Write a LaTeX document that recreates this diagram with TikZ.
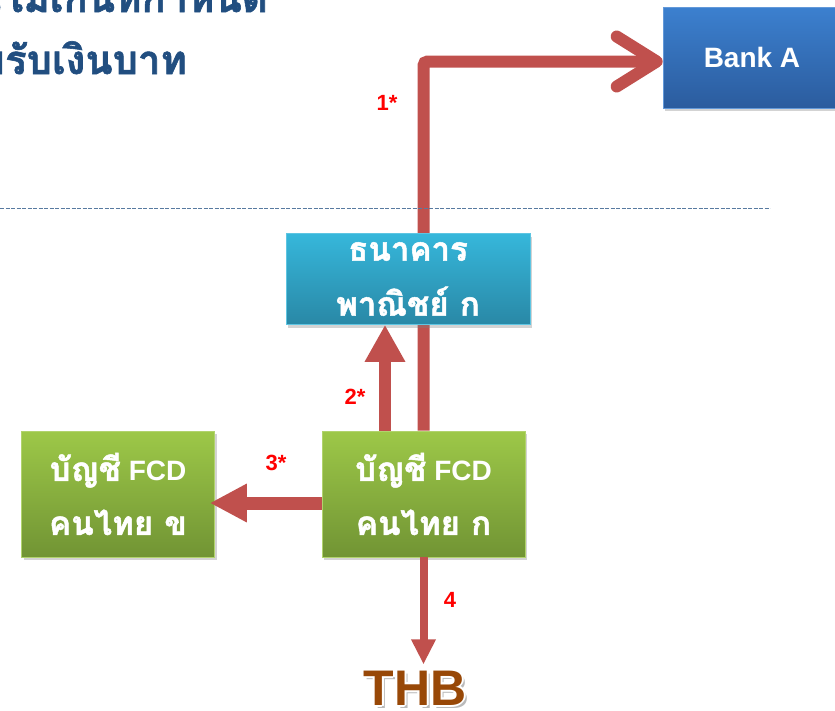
\documentclass[tikz,border=0pt]{standalone}
\usepackage{fontspec}
\setmainfont{Liberation Sans}
\newfontfamily\thaifont[Script=Thai, BoldFeatures={FakeBold=1.5}]{Loma}
\usetikzlibrary{arrows.meta,shadows,backgrounds}

\definecolor{bankTop}{RGB}{60,128,207}
\definecolor{bankBot}{RGB}{43,92,158}
\definecolor{cyanTop}{RGB}{54,183,219}
\definecolor{cyanBot}{RGB}{41,136,166}
\definecolor{grnTop}{RGB}{157,200,72}
\definecolor{grnBot}{RGB}{113,148,52}
\definecolor{arrowred}{RGB}{192,80,77}
\definecolor{titleblue}{RGB}{33,78,128}
\definecolor{thbbrown}{RGB}{152,72,7}

\newcommand{\thtext}[1]{{\thaifont\fontsize{33}{54}\selectfont #1}}

\begin{document}
\begin{tikzpicture}[x=1pt,y=-1pt,
    box/.style={draw=#1, line width=0.6pt, inner sep=0pt, text=white, align=center,
      font=\bfseries\fontsize{28}{54}\selectfont,
      drop shadow={shadow xshift=2pt,shadow yshift=-3pt,opacity=.35}},
    title/.style={text=titleblue, inner sep=0pt, font=\thaifont\bfseries\fontsize{40}{52}\selectfont},
    num/.style={text=red, inner sep=0pt, font=\bfseries\fontsize{22}{26}\selectfont},
    redline/.style={draw=arrowred, line width=12pt},
    thb/.style={inner sep=0pt, font=\bfseries\fontsize{50}{60}\selectfont}]
    \useasboundingbox (0,0) rectangle (835,710);
    % heading, cut off by the page
    \node[title, anchor=base east] (t1) at (268,12) {วงเงินไม่เกินที่กำหนด};
    \node[title, anchor=base east] (t2) at (187,74) {ขายรับเงินบาท};
    \draw[titleblue!75, line width=1pt, dash pattern=on 4pt off 1.5pt] (0,208) -- (770,208);
    % boxes
    \node[box=bankTop!80!white, top color=bankTop, bottom color=bankBot,
      minimum width=178pt, minimum height=101pt] (bank) at (752,57.5) {Bank A};
    \node[box=cyanTop!80!white, top color=cyanTop, bottom color=cyanBot,
      minimum width=244pt, minimum height=91pt] (kbank) at (408,279)
      {\thtext{ธนาคาร}\\[1pt]\thtext{พาณิชย์ ก}};
    \node[box=grnTop!80!white, top color=grnTop, bottom color=grnBot,
      minimum width=203pt, minimum height=126pt] (ka) at (423.5,494)
      {\thtext{บัญชี} FCD\\\thtext{คนไทย ก}};
    \node[box=grnTop!80!white, top color=grnTop, bottom color=grnBot,
      minimum width=193pt, minimum height=126pt] (kb) at (118,494)
      {\thtext{บัญชี} FCD\\\thtext{คนไทย ข}};
    % THB
    \coordinate (thbpos) at (415,705);
    \node[thb, anchor=base, text=black!45, opacity=.6] at ([xshift=3pt,yshift=-3pt]thbpos) {THB};
    \foreach \a in {0,45,...,315}
      \node[thb, anchor=base, text=white] at ([shift={(\a:2pt)}]thbpos) {THB};
    \node[thb, anchor=base, text=thbbrown] (thb) at (thbpos) {THB};
    % arrows
    \begin{scope}[on background layer]
      \draw[redline, rounded corners=4pt, -{Straight Barb[length=40pt,width=50pt,round]}]
        (ka.north) |- ([yshift=-4pt]bank.west);
    \end{scope}
    \draw[redline, -{Triangle[length=37pt,width=38pt]}]
      ([xshift=-38.5pt]ka.north) -- ([xshift=-38.5pt]ka.north |- kbank.south);
    \draw[redline, line width=13pt, -{Triangle[length=37pt,width=36pt]}]
      ([yshift=-9pt]ka.west) -- ([yshift=-9pt,xshift=-5pt]ka.west -| kb.east);
    \draw[redline, line width=8pt, -{Triangle[length=25pt,width=23pt]}]
      (ka.south) -- ([yshift=6pt]ka.south |- thb.north);
    % step numbers
    \node[num] (n1) at (387,103) {1*};
    \node[num] (n2) at (355,397) {2*};
    \node[num] (n3) at (276,463) {3*};
    \node[num] (n4) at (450,600) {4};
\end{tikzpicture}
\end{document}
